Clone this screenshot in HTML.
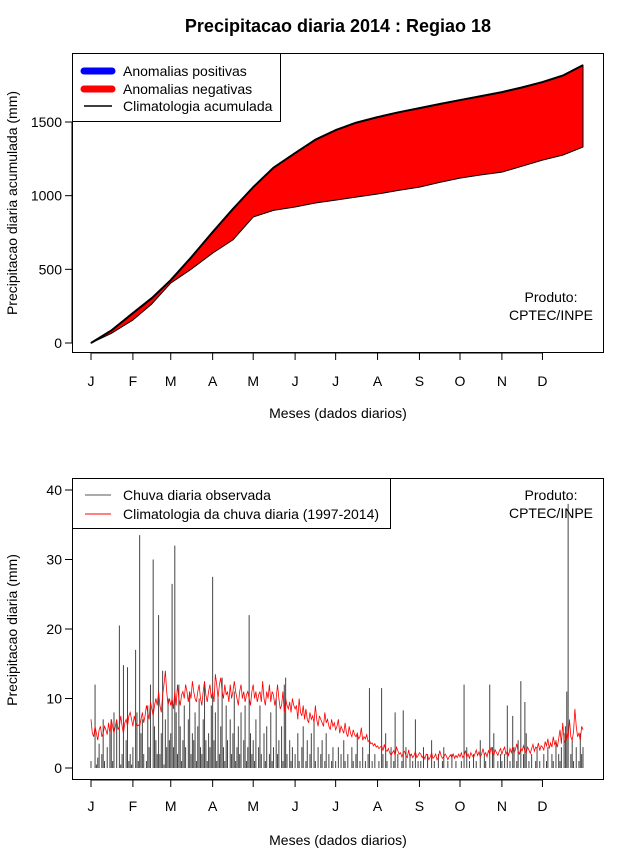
<!DOCTYPE html>
<html><head><meta charset="utf-8"><style>
body{margin:0;background:#fff;}
svg{display:block;font-family:"Liberation Sans",Arial,sans-serif;}
</style></head><body>
<svg id="c" width="640" height="850"></svg>
<script>
// ---- data ----
const monthLabels=["J","F","M","A","M","J","J","A","S","O","N","D"];
const monthStartDays=[1,32,60,91,121,152,182,213,244,274,305,335];
const cumDays=[1,16,32,46,60,75,91,106,121,136,152,167,182,197,213,228,244,259,274,289,305,320,335,350,365];
const climCum=[0,85,203,305,427,580,753,910,1058,1190,1289,1380,1445,1495,1533,1565,1594,1622,1649,1675,1703,1735,1771,1815,1886];
const obsCum=[0,65,156,265,407,500,610,700,855,900,923,950,970,990,1011,1035,1058,1090,1119,1140,1160,1200,1241,1275,1330];
const topTicks=[0,500,1000,1500];
const botTicks=[0,10,20,30,40];
const obsDaily=[
1,0,0,12,0.5,1.5,3.5,0,2,7,1,0,3,0,5,7,1,8,0,6.5,0,20.5,0.5,2,14.8,0,4,14.5,1,2,0.5,
3,0,17,8,1,33.5,5,7,2,0,1,9,3,12,0,30,6,4,2,22,2,5,14,0.5,7,3,10,4,
5,26.5,3,32,8,2,12,6,1,4,9,3,0,7,11,2,5,4,8,1,6,10,3,2,7,12,4,1,5,3,9,
27.5,4,8,1,10,2,6,13,3,1,9,4,0,7,2,5,11,1,3,6,2,8,0,4,9,1,3,22,5,2,
4,1,7,0,3,9,2,0,5,1,6,0,2,8,1,3,0,10,2,4,0,6,1,12,13,2,0,4,1,3,0,
2,0,5,1,0,3,6,0,1,4,0,2,5,0,7,1,0,3,0,2,4,0,1,5,0,2,0,1,3,0,
1,0,3,0,2,0,4,1,0,2,0,0,3,1,0,2,5,0,1,0,3,0,1,0,2,11.5,0,1,0,2,0,
0,1,0,11.5,2,0,5,1,0,0,3,0,1,8,0,2,0,0,1,8.3,0,3,0,0,2,0,1,0,7,0,1,
0,1,0,3,0,0,2,0,0,4,0,1,0,0,2,0,0,1,3,0,0,1,0,0,2,0,0,1,0,0,
0,1,0,12,0,3,0,1,0,0,2,0,1,0,0,4,0,0,2,1,0,0,12,0,3,5,0,0,1,0,2,
1,0,2,0,9,0,1,0,7.5,3,0,1,4,0,12.5,0,2,9.5,5,0,1,0,2,0,0,1,3,0,1,0,
0,2,0,1,3,0,0,2,1,0,4,0,2,1,3,0,5,6,11,38,0,2,4,1,0,3,0,1,5,2,3];
const climDaily=[
7,5,4.5,6,5,4,5.5,6,4.5,5,6,5.5,4.8,6.5,5,7,6,5,6,7,5.5,6,7.5,6,5,6.5,7,6,7.5,8,7,
6,7.5,6.5,6,6.2,6,7,8,6.5,7.5,9,8,7,9.5,8.5,7.5,9,10,9,11,9,8,10.5,12,14,11,9,10,
9,10,8.5,11,9,12,10,9,10.5,11,10,12,11,9.5,11,10,12.5,11,10,9.5,11,12,10,9,11,12.5,10.5,9.5,11,12,10,
11,9.5,13.5,12,10,12,13,11,10,12,10.5,11,9.5,12,10,11,12.5,11,10,9,11,12,10,11,9.5,10.5,11,10,9,11,
12,10,11,9.5,10.5,11,9.5,12.5,10,9,11,10,12,9.5,11,10.5,9,10,12,10,8.5,9,11,8,10,9,8.5,9.5,8,10,9,
8.5,9,7,10,8,7.5,9,7,8.5,7,6.5,8,7,7.5,6.5,9,7,6,7.5,7,6.5,6,8,6.5,7,6,5.5,7,6,6.5,
5.5,6,7,5,6,5.5,5,6.5,5,4.5,6,5,4.5,5.5,4.8,4.5,5,4.2,4.5,5.8,4,4.5,4.2,4.8,3.8,4,3.5,3.6,3.2,3.5,3,
3.2,2.8,3,3.2,2.5,3.4,2.6,2.4,2.8,2.2,1.8,2.2,2.5,1.8,3,2.5,2,2.2,1.6,2.2,2.4,1.8,1.5,2.6,1.6,2,1.5,1.8,2.4,1.5,1.8,
2.2,2,1.5,1.8,1.3,2,1.8,1.2,1.6,2.2,1.4,1.6,2,1.2,1.5,2.5,1.8,1.4,1.6,2,1.7,1.2,1.6,1.9,1.5,2,1.4,1.8,1.5,2,
1.6,2.2,1.5,1.8,2.5,1.6,2,1.4,2.2,1.8,1.5,2,2.6,1.8,2.3,1.6,2,2.8,1.9,2.2,1.6,2.5,2,3,2.2,1.8,2.6,2.2,1.8,2.4,2.8,
2,2.6,3,2,2.4,1.8,2.8,2.2,3,2.2,2.6,3.5,2.4,2,2.8,2.5,3.2,2.4,2.2,3,2.6,2.1,2.8,3.4,2.4,3,2.8,3.6,2.5,3.2,
3,2.6,3.8,3.2,4.2,2.8,3.6,3,4.5,3.4,3.8,3,4.2,5.5,3.5,6.5,4,3.6,5,4.2,7,4.5,4,5.2,8.5,6,4.5,5,4,6,5.5];

// ---- helpers ----
const NS="http://www.w3.org/2000/svg";
const svg=document.getElementById('c');
function mk(tag,attrs,parent){const e=document.createElementNS(NS,tag);for(const k in attrs)e.setAttribute(k,attrs[k]);(parent||svg).appendChild(e);return e;}
function txt(s,attrs){const e=mk('text',attrs);e.textContent=s;return e;}
const xDay=d=>91+(d-1)*(583-91)/364;
const yTop=v=>343-v*(343-122)/1500;
const yBot=v=>768-v*(768-490)/40;
const FS=14;

// title
let e=txt("Precipitacao diaria 2014 : Regiao 18",{x:338,y:32,'text-anchor':'middle','font-size':18,'font-weight':'bold'});



// ---- TOP PLOT ----
let poly=[];
for(let i=0;i<cumDays.length;i++)poly.push(xDay(cumDays[i])+','+yTop(climCum[i]));
for(let i=cumDays.length-1;i>=0;i--)poly.push(xDay(cumDays[i])+','+yTop(obsCum[i]));
e=mk('polygon',{points:poly.join(' '),fill:'#ff0000',stroke:'#000','stroke-width':1,'stroke-linejoin':'round'});


e=mk('polyline',{points:cumDays.map((d,i)=>xDay(d)+','+yTop(climCum[i])).join(' '),fill:'none',stroke:'#000','stroke-width':2,'stroke-linejoin':'round'});


e=mk('rect',{x:72.5,y:53.5,width:531,height:299,fill:'none',stroke:'#000'});


topTicks.forEach(t=>{
  const y=yTop(t);
  mk('line',{x1:65,x2:72,y1:y,y2:y,stroke:'#000'});
  const l=txt(String(t),{x:62,y:y+5,'text-anchor':'end','font-size':FS});
  
  
});
mk('line',{x1:72,x2:72,y1:yTop(0),y2:yTop(1500),stroke:'#000'});
function xAxis(y0,ylab){
  mk('line',{x1:xDay(1),x2:xDay(335),y1:y0,y2:y0,stroke:'#000'});
  monthStartDays.forEach((d,i)=>{
    mk('line',{x1:xDay(d),x2:xDay(d),y1:y0,y2:y0+7,stroke:'#000'});
    const l=txt(monthLabels[i],{x:xDay(d),y:ylab,'text-anchor':'middle','font-size':FS});
    
    
  });
}
xAxis(353,386);
e=txt("Meses (dados diarios)",{x:338,y:418,'text-anchor':'middle','font-size':FS});


e=txt("Precipitacao diaria acumulada (mm)",{x:0,y:0,'text-anchor':'middle','font-size':FS,transform:'translate(17,203) rotate(-90)'});


// legend top
e=mk('rect',{x:72.5,y:53.5,width:208,height:68,fill:'#fff',stroke:'#000'});


mk('line',{x1:84,x2:112,y1:71,y2:71,stroke:'#0000ff','stroke-width':7,'stroke-linecap':'round'});
mk('line',{x1:84,x2:112,y1:89,y2:89,stroke:'#ff0000','stroke-width':7,'stroke-linecap':'round'});
mk('line',{x1:84,x2:112,y1:106,y2:106,stroke:'#000','stroke-width':1.5});
[["Anomalias positivas",76],["Anomalias negativas",94],["Climatologia acumulada",111]].forEach(a=>{
  const l=txt(a[0],{x:123,y:a[1],'font-size':FS});
  
  
});
e=txt("Produto:",{x:551,y:302,'text-anchor':'middle','font-size':FS});


e=txt("CPTEC/INPE",{x:551,y:320,'text-anchor':'middle','font-size':FS});



// ---- BOTTOM PLOT ----
obsDaily.forEach((v,i)=>{
  const x=xDay(i+1);
  const b=mk('line',{x1:x,x2:x,y1:yBot(0),y2:yBot(v),stroke:'#444','stroke-width':1});
  
  
});
e=mk('polyline',{points:climDaily.map((v,i)=>xDay(i+1)+','+yBot(v)).join(' '),fill:'none',stroke:'#ff0000','stroke-width':0.8});


e=mk('rect',{x:72.5,y:478.5,width:531,height:301,fill:'none',stroke:'#000'});


botTicks.forEach(t=>{
  const y=yBot(t);
  mk('line',{x1:65,x2:72,y1:y,y2:y,stroke:'#000'});
  const l=txt(String(t),{x:62,y:y+5,'text-anchor':'end','font-size':FS});
  
  
});
xAxis(780,811);
e=txt("Meses (dados diarios)",{x:338,y:845,'text-anchor':'middle','font-size':FS});


e=txt("Precipitacao diaria (mm)",{x:0,y:0,'text-anchor':'middle','font-size':FS,transform:'translate(17,630) rotate(-90)'});


e=mk('rect',{x:72.5,y:478.5,width:318,height:50,fill:'#fff',stroke:'#000'});


mk('line',{x1:85,x2:111,y1:495,y2:495,stroke:'#555','stroke-width':1});
mk('line',{x1:85,x2:111,y1:514,y2:514,stroke:'#ff0000','stroke-width':1});
[["Chuva diaria observada",500],["Climatologia da chuva diaria (1997-2014)",519]].forEach(a=>{
  const l=txt(a[0],{x:123,y:a[1],'font-size':FS});
  
  
});
e=txt("Produto:",{x:551,y:500,'text-anchor':'middle','font-size':FS});


e=txt("CPTEC/INPE",{x:551,y:518,'text-anchor':'middle','font-size':FS});


</script>
</body></html>
